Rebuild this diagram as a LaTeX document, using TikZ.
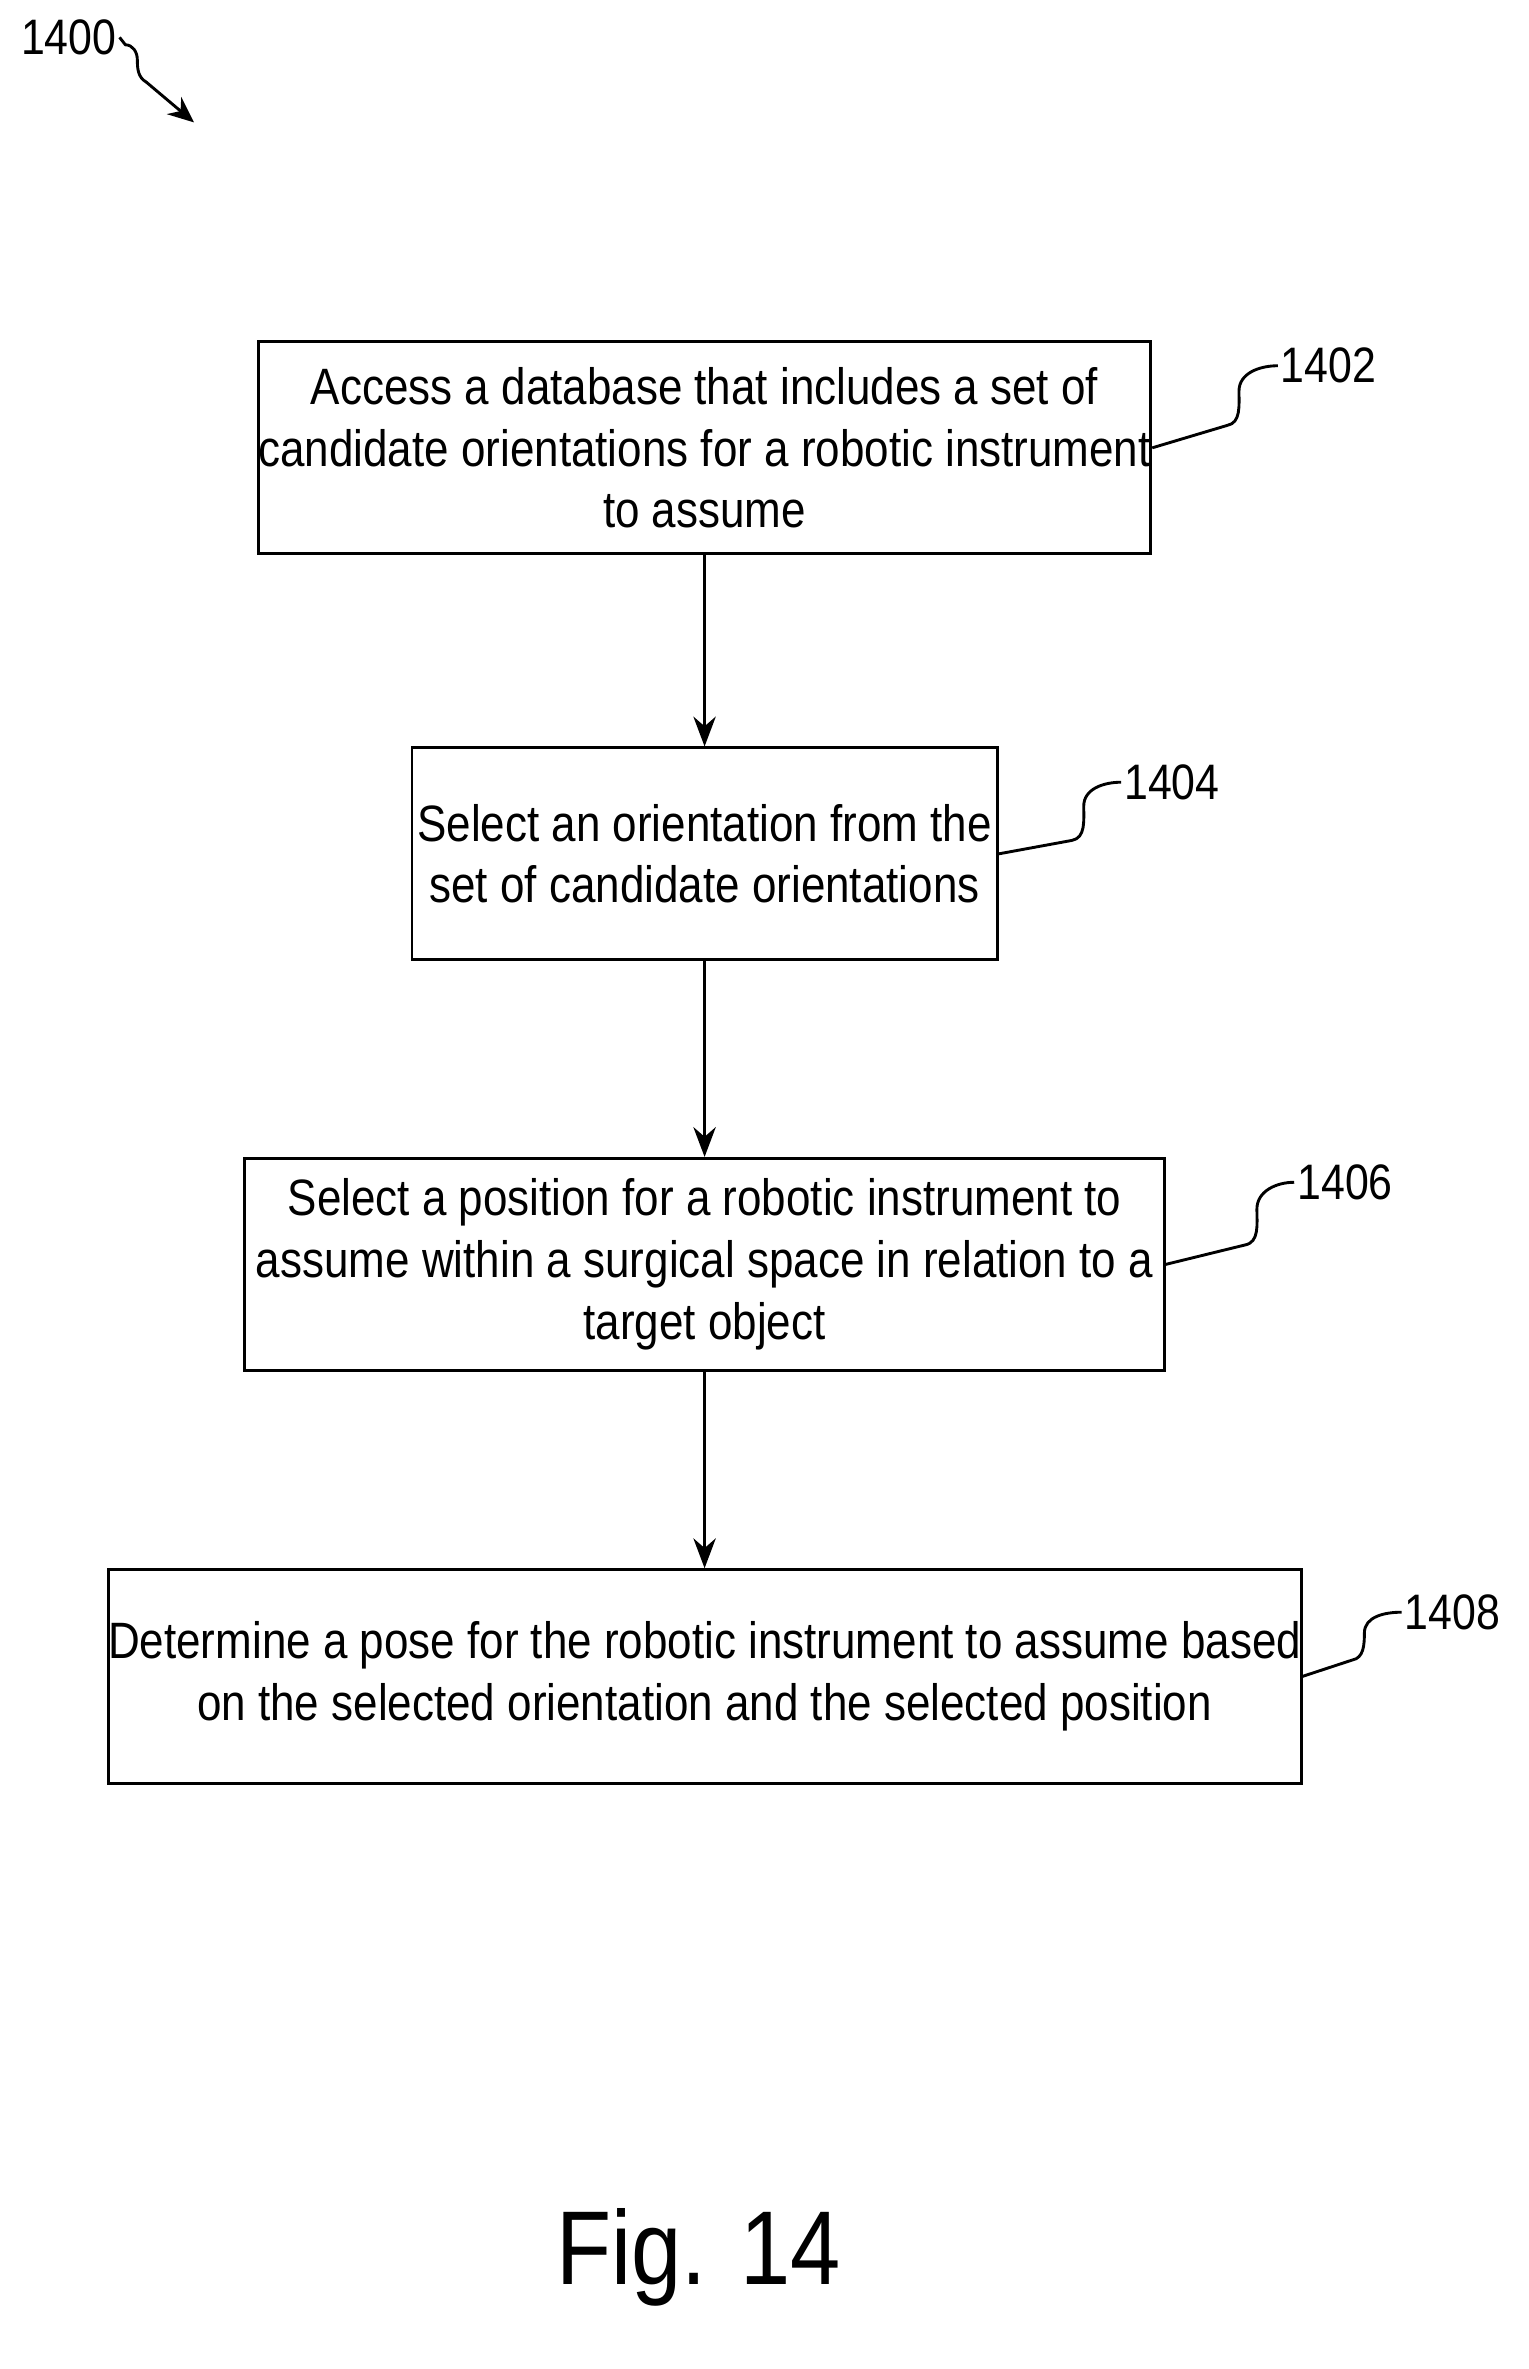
\documentclass[tikz,border=0pt]{standalone}
\usepackage{fontspec}
\setmainfont[FakeStretch=0.86]{Liberation Sans}
\usetikzlibrary{arrows.meta}
\begin{document}
\begin{tikzpicture}[x=0.02cm,y=-0.02cm,
    stepbox/.style={draw, line width=1.1pt, align=center, inner sep=0pt,
        font=\fontsize{19.5}{23.5}\selectfont},
    ref/.style={font=\fontsize{19}{23}\selectfont},
    lead/.style={line width=1.1pt}]
    \useasboundingbox (0,0) rectangle (1024,1587);

    % Steps
    \node[stepbox, minimum width=566*0.02cm, minimum height=142*0.02cm] (access) at (472,300)
        {Access a database that includes a set of\\candidate orientations for a robotic instrument\\to assume};
    \node[stepbox, minimum width=392*0.02cm, minimum height=142*0.02cm] (orient) at (472,572)
        {Select an orientation from the\\set of candidate orientations};
    \node[stepbox, minimum width=616*0.02cm, minimum height=142*0.02cm] (position) at (472,847)
        {Select a position for a robotic instrument to\\assume within a surgical space in relation to a\\target object};
    \node[stepbox, minimum width=770*0.02cm, minimum height=143*0.02cm] (pose) at (472,1123)
        {Determine a pose for the robotic instrument to assume based\\on the selected orientation and the selected position};

    % Arrows
    \foreach \a/\b in {access/orient, orient/position, position/pose}
        \draw[line width=1.1pt, -{Stealth[length=4mm, width=3mm]}] (\a) -- (\b);

    % Reference numerals
    \node[ref, anchor=west, inner sep=1pt] (n1402) at (856,245) {1402};
    \node[ref, anchor=west, inner sep=1pt] (n1404) at (751,524) {1404};
    \node[ref, anchor=west, inner sep=1pt] (n1406) at (867,792) {1406};
    \node[ref, anchor=west, inner sep=1pt] (n1408) at (939,1080) {1408};
    \draw[lead] (access.east) -- (822,285) to[out=10,in=-90] (830,262) to[out=90,in=180] (n1402.west);
    \draw[lead] (orient.east) -- (718,563) to[out=10,in=-90] (726,540) to[out=90,in=180] (n1404.west);
    \draw[lead] (position.east) -- (834,834) to[out=10,in=-90] (842,810) to[out=90,in=180] (n1406.west);
    \draw[lead] (pose.east) -- (906,1112) to[out=10,in=-90] (914,1094) to[out=90,in=180] (n1408.west);

    % Figure number
    \node[ref, anchor=west, inner sep=1pt] (n1400) at (12,25) {1400};
    \draw[lead, -{Stealth[length=3.5mm, width=3mm]}] (n1400.east) -- (84,30)
        to[out=0,in=90] (92,40) to[out=-90,in=150] (98,55) -- (130,82);
    \node[font=\fontsize{40}{48}\selectfont] (fig) at (468,1512) {Fig. 14};
\end{tikzpicture}
\end{document}
